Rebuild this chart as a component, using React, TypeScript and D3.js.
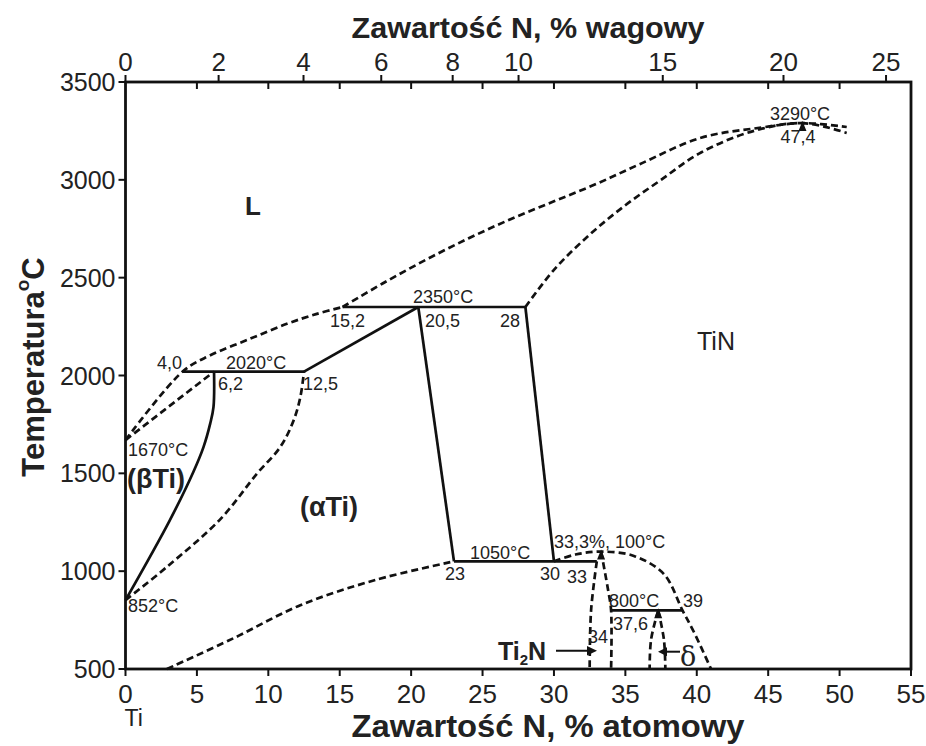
import React from "react";
import * as d3 from "d3";

const W = 926;
const H = 746;

// Axis ticks
const atTicks = [0, 5, 10, 15, 20, 25, 30, 35, 40, 45, 50, 55];
const wtTicks = [0, 2, 4, 6, 8, 10, 15, 20, 25];
const tempTicks = [500, 1000, 1500, 2000, 2500, 3000, 3500];

// Phase boundaries, points as [at.% N, temperature °C]
const liquidusLow: [number, number][] = [
  [0, 1670], [4.0, 2020], [5.9, 2102], [8.7, 2187], [11.3, 2264], [13.4, 2315], [15.2, 2350],
];
const liquidusHigh: [number, number][] = [
  [15.2, 2350], [18, 2470], [21, 2590], [24, 2700], [27, 2800], [30, 2890], [33, 2980],
  [36, 3080], [40.3, 3215], [44.5, 3267], [47.4, 3290], [50.5, 3270],
];
const tinSolidus: [number, number][] = [
  [28, 2350], [30, 2540], [32.5, 2720], [35, 2870], [37.5, 3000], [40.3, 3140], [44, 3250],
  [47.4, 3290], [50.5, 3240],
];
const betaSolidus: [number, number][] = [[0, 1670], [6.2, 2020]];
const betaTransus: [number, number][] = [
  [0, 852], [3.1, 1260], [4.75, 1507], [5.46, 1634], [5.93, 1754], [6.16, 1838], [6.2, 2020],
];
const alphaBoundary: [number, number][] = [
  [0, 852], [2.9, 1022], [6.63, 1265], [9.2, 1498], [10.83, 1634], [11.77, 1770], [12.24, 1889], [12.5, 2020],
];
const alphaLow: [number, number][] = [[2.9, 500], [7.56, 657], [12.24, 826], [17.5, 955], [23, 1050]];
const ti2nDome: [number, number][] = [
  [30, 1050], [31.5, 1085], [33.3, 1100], [35.6, 1078], [37.7, 985], [39, 800], [39.8, 689], [41, 500],
];
const ti2nLeft: [number, number][] = [[33, 1050], [32.6, 800], [32.5, 500]];
const ti2nRight: [number, number][] = [[33.3, 1100], [33.8, 900], [34, 800], [34, 500]];
const deltaLeft: [number, number][] = [[37.3, 800], [36.8, 650], [36.7, 500]];
const deltaRight: [number, number][] = [[37.3, 800], [37.7, 650], [37.8, 500]];

// Solid invariant lines and boundaries
const peritecticBeta: [number, number][] = [[4.0, 2020], [12.5, 2020]];
const alphaLiquid: [number, number][] = [[12.5, 2020], [20.5, 2350]];
const peritecticAlpha: [number, number][] = [[15.2, 2350], [28, 2350]];
const alphaRight: [number, number][] = [[20.5, 2350], [23, 1050]];
const tinLeft: [number, number][] = [[28, 2350], [30, 1050]];
const eutectoid: [number, number][] = [[23, 1050], [33, 1050]];
const deltaLine: [number, number][] = [[34, 800], [39, 800]];

// Mass fraction of N converted to atomic fraction (Ti–N)
const M_TI = 47.867;
const M_N = 14.007;
const wtToAt = (w: number) => {
  const n = w / M_N;
  const t = (100 - w) / M_TI;
  return (100 * n) / (n + t);
};

const FONT = "'Liberation Sans', Arial, sans-serif";

export default function App() {
  const x = d3.scaleLinear().domain([0, 55]).range([125.5, 911]);
  const y = d3.scaleLinear().domain([500, 3500]).range([669, 82]);

  const smooth = d3
    .line<[number, number]>()
    .x((d) => x(d[0]))
    .y((d) => y(d[1]))
    .curve(d3.curveCatmullRom.alpha(0.5));
  const straight = d3
    .line<[number, number]>()
    .x((d) => x(d[0]))
    .y((d) => y(d[1]));

  const dash = { fill: "none", stroke: "#111", strokeWidth: 2.7, strokeDasharray: "7 4" };
  const solid = { fill: "none", stroke: "#111", strokeWidth: 2.7 };

  const dashed = [liquidusLow, liquidusHigh, tinSolidus, betaSolidus, alphaBoundary, alphaLow, ti2nDome, ti2nLeft, ti2nRight, deltaLeft, deltaRight];
  const solids = [peritecticBeta, alphaLiquid, peritecticAlpha, alphaRight, tinLeft, eutectoid, deltaLine];

  const x0 = x(0);
  const x1 = x(55);
  const yTop = y(3500);
  const yBot = y(500);

  const ann = { fontFamily: FONT, fontSize: 18, fill: "#222" };

  const peak = (px: number, py: number) =>
    `M${px},${py - 2} L${px - 4},${py + 8} L${px + 4},${py + 8} Z`;

  return (
    <svg width={W} height={H} style={{ display: "block", position: "absolute", left: 0, top: 0, background: "#fff" }}>
      <rect width={W} height={H} fill="#fff" />

      {/* phase boundaries */}
      {dashed.map((d, i) => (
        <path key={"d" + i} d={smooth(d) || ""} {...dash} />
      ))}
      <path d={smooth(betaTransus) || ""} {...solid} />
      {solids.map((d, i) => (
        <path key={"s" + i} d={straight(d) || ""} {...solid} />
      ))}

      {/* congruent maxima markers */}
      <path d={peak(x(33.3), y(1100))} fill="#111" />
      <path d={peak(x(37.3), y(800))} fill="#111" />
      <path d={peak(x(47.4), y(3290))} fill="#111" />

      {/* frame */}
      <rect x={x0} y={yTop} width={x1 - x0} height={yBot - yTop} fill="none" stroke="#111" strokeWidth={2.8} />

      {/* left axis */}
      {tempTicks.map((t) => (
        <g key={"t" + t}>
          <line x1={x0 - 7} x2={x0} y1={y(t)} y2={y(t)} stroke="#111" strokeWidth={2} />
          <text x={x0 - 10} y={y(t)} dy="0.36em" textAnchor="end" fontFamily={FONT} fontSize={25} fill="#222">
            {t}
          </text>
        </g>
      ))}

      {/* bottom axis */}
      {atTicks.map((a) => (
        <g key={"b" + a}>
          <line x1={x(a)} x2={x(a)} y1={yBot} y2={yBot + 7} stroke="#111" strokeWidth={2} />
          <text x={x(a)} y={yBot + 34} textAnchor="middle" fontFamily={FONT} fontSize={26} fill="#222">
            {a}
          </text>
        </g>
      ))}

      {/* top axis: inner ticks mirror atomic %, outer ticks carry mass % */}
      {atTicks.slice(1, -1).map((a) => (
        <line key={"ti" + a} x1={x(a)} x2={x(a)} y1={yTop} y2={yTop + 7} stroke="#111" strokeWidth={2} />
      ))}
      {wtTicks.map((w) => (
        <g key={"w" + w}>
          <line x1={x(wtToAt(w))} x2={x(wtToAt(w))} y1={yTop - 7} y2={yTop} stroke="#111" strokeWidth={2} />
          <text x={x(wtToAt(w))} y={yTop - 11} textAnchor="middle" fontFamily={FONT} fontSize={26} fill="#222">
            {w}
          </text>
        </g>
      ))}

      {/* axis titles */}
      <text x={528} y={38} textAnchor="middle" fontFamily={FONT} fontSize={30} fontWeight="bold" fill="#222"
        textLength={353} lengthAdjust="spacingAndGlyphs">
        Zawartość N, % wagowy
      </text>
      <text x={548} y={737} textAnchor="middle" fontFamily={FONT} fontSize={31} fontWeight="bold" fill="#222"
        textLength={393} lengthAdjust="spacingAndGlyphs">
        Zawartość N, % atomowy
      </text>
      <text transform="translate(44,367) rotate(-90)" textAnchor="middle" fontFamily={FONT} fontSize={31} fontWeight="bold" fill="#222">
        Temperatura
        <tspan fontSize={19} dy="-0.8em">o</tspan>
        <tspan dy="0.5em">C</tspan>
      </text>
      <text x={x(0) - 1} y={726} fontFamily={FONT} fontSize={23} fill="#222">Ti</text>

      {/* phase fields */}
      <text x={245} y={215} fontFamily={FONT} fontSize={26} fontWeight="bold" fill="#222">L</text>
      <text x={697} y={350} fontFamily={FONT} fontSize={25} fill="#222">TiN</text>
      <text x={127} y={488} fontFamily={FONT} fontSize={27} fontWeight="bold" fill="#222">(βTi)</text>
      <text x={300} y={516} fontFamily={FONT} fontSize={27} fontWeight="bold" fill="#222">(αTi)</text>
      <text x={498} y={660} fontFamily={FONT} fontSize={25} fontWeight="bold" fill="#222">
        Ti<tspan fontSize={15} dy="5">2</tspan><tspan dy="-5">N</tspan>
      </text>
      <text x={680} y={666} fontFamily="'DejaVu Serif', serif" fontSize={27} fill="#222">δ</text>

      {/* pointer arrows */}
      <line x1={556} x2={590} y1={650.7} y2={650.7} stroke="#111" strokeWidth={2} />
      <path d="M597,650.7 L587,646 L587,655.4 Z" fill="#111" />
      <line x1={680} x2={664} y1={651.7} y2={651.7} stroke="#111" strokeWidth={2} />
      <path d="M658,651.7 L667,647.2 L667,656.2 Z" fill="#111" />

      {/* invariant point labels */}
      <text x={800} y={120} textAnchor="middle" {...ann}>3290°C</text>
      <text x={798} y={143} textAnchor="middle" {...ann}>47,4</text>
      <text x={413} y={303} {...ann}>2350°C</text>
      <text x={330} y={327} {...ann}>15,2</text>
      <text x={425} y={327} {...ann}>20,5</text>
      <text x={500} y={327} {...ann}>28</text>
      <text x={157} y={369} {...ann}>4,0</text>
      <text x={226} y={369} {...ann}>2020°C</text>
      <text x={218} y={390} {...ann}>6,2</text>
      <text x={303} y={390} {...ann}>12,5</text>
      <text x={128} y={456} {...ann}>1670°C</text>
      <text x={128} y={612} {...ann}>852°C</text>
      <text x={470} y={559} {...ann}>1050°C</text>
      <text x={445} y={580} {...ann}>23</text>
      <text x={540} y={580} {...ann}>30</text>
      <text x={567} y={583} {...ann}>33</text>
      <text x={554} y={548} {...ann}>33,3%, 100°C</text>
      <text x={609} y={607} {...ann}>800°C</text>
      <text x={683} y={607} {...ann}>39</text>
      <text x={613} y={630} {...ann}>37,6</text>
      <text x={588} y={643} {...ann}>34</text>
    </svg>
  );
}
